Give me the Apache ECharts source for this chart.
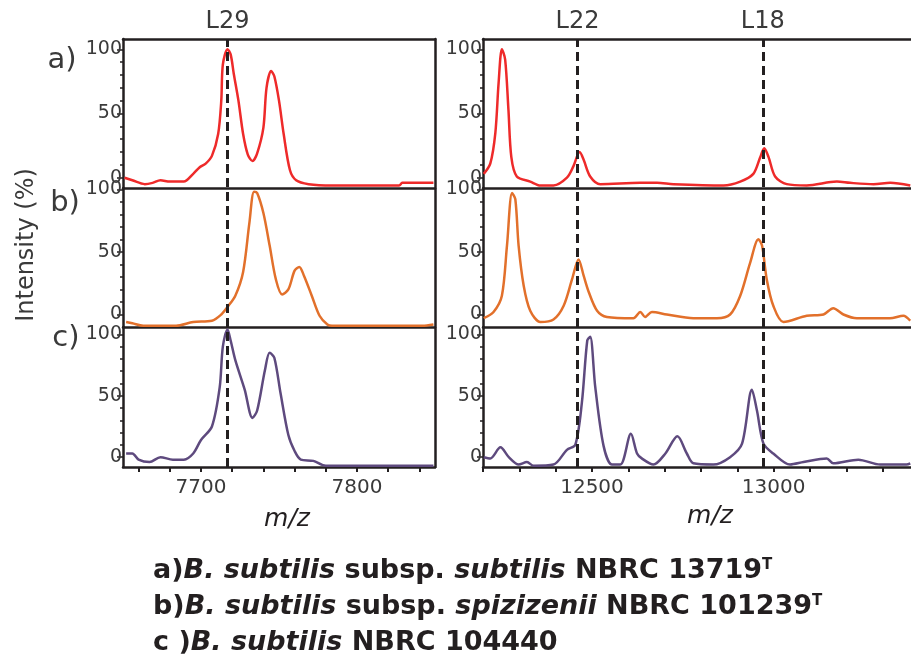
<!DOCTYPE html>
<html>
<head>
<meta charset="utf-8">
<script src="https://cdn.jsdelivr.net/npm/echarts@6/dist/echarts.min.js"></script>
<style>
  html, body { margin: 0; padding: 0; background: #fff; }
  #chart { width: 911px; height: 668px; }
</style>
</head>
<body>
<div id="chart"></div>
<script>
// m/z ranges of the two columns
const leftRange = [7650, 7850];
const rightRange = [12200, 13378];
const leftTicks = [7660, 7680, 7700, 7720, 7740, 7760, 7780, 7800, 7820, 7840];
const leftLabels = [7700, 7800];
const rightTicks = [12200, 12300, 12400, 12500, 12600, 12700, 12800, 12900, 13000, 13100, 13200, 13300];
const rightLabels = [12500, 13000];
const yLabels = [0, 50, 100];
const yMinorTicks = [10, 20, 30, 40, 60, 70, 80, 90];

// marker peaks (dashed lines)
const leftMarkers = [{ name: 'L29', mz: 7717 }];
const rightMarkers = [{ name: 'L22', mz: 12460 }, { name: 'L18', mz: 12970 }];

// a) red, left column
const mzLeftA = [7651, 7656, 7664, 7669, 7674, 7680, 7685, 7689, 7695, 7699, 7703, 7707, 7711, 7713, 7714, 7717, 7719, 7721, 7724, 7727, 7730, 7733, 7736, 7740, 7742, 7745, 7747, 7750, 7753, 7757, 7761, 7769, 7784, 7827, 7829, 7849];
const intLeftA = [0, -2, -5, -4, -2, -3, -3, -3, 3, 8, 11, 17, 34, 60, 88, 100, 96, 81, 60, 34, 18, 13, 19, 39, 70, 83, 79, 60, 34, 6, -2, -5, -6, -6, -4, -4];
// b) orange, left column
const mzLeftB = [7652, 7656, 7663, 7684, 7695, 7707, 7713, 7717, 7722, 7727, 7731, 7734, 7736, 7740, 7744, 7748, 7752, 7756, 7760, 7763, 7766, 7771, 7776, 7781, 7784, 7842, 7849];
const intLeftB = [-6, -7, -9, -9, -6, -5, 0, 6, 15, 34, 73, 98, 97, 81, 55, 28, 16, 20, 35, 38, 31, 15, -1, -8, -9, -9, -8];
// c) purple, left column
const mzLeftC = [7652, 7656, 7660, 7667, 7674, 7682, 7689, 7695, 7700, 7707, 7712, 7714, 7717, 7719, 7722, 7728, 7733, 7736, 7741, 7744, 7747, 7751, 7756, 7760, 7764, 7772, 7780, 7849];
const intLeftC = [3, 3, -2, -4, 0, -2, -2, 3, 14, 25, 57, 90, 104, 95, 79, 55, 32, 38, 71, 85, 81, 52, 18, 5, -2, -3, -7, -7];

// a) red, right column
const mzRightA = [12202, 12220, 12234, 12243, 12252, 12261, 12270, 12278, 12293, 12330, 12358, 12394, 12431, 12449, 12466, 12477, 12495, 12523, 12633, 12679, 12724, 12862, 12908, 12944, 12963, 12974, 12986, 13004, 13036, 13091, 13174, 13210, 13275, 13321, 13376];
const intRightA = [3, 11, 35, 74, 100, 92, 53, 16, 1, -3, -6, -6, 0, 9, 20, 14, 1, -5, -4, -4, -5, -6, -3, 3, 16, 23, 16, 1, -5, -6, -3, -4, -5, -4, -6];
// b) orange, right column
const mzRightB = [12202, 12229, 12252, 12266, 12280, 12289, 12298, 12312, 12330, 12358, 12394, 12422, 12445, 12463, 12477, 12491, 12514, 12541, 12614, 12633, 12646, 12665, 12706, 12779, 12844, 12880, 12908, 12935, 12958, 12968, 12981, 12999, 13027, 13091, 13137, 13164, 13192, 13229, 13320, 13357, 13376];
const intRightB = [-3, 2, 15, 55, 97, 92, 55, 23, 3, -6, -4, 7, 28, 44, 31, 18, 3, -2, -3, 2, -2, 2, 0, -3, -3, 0, 15, 41, 60, 55, 28, 7, -6, -1, 0, 5, 0, -3, -3, -1, -5];
// c) purple, right column
const mzRightC = [12202, 12220, 12248, 12271, 12298, 12321, 12339, 12394, 12431, 12454, 12472, 12487, 12495, 12509, 12532, 12555, 12578, 12607, 12624, 12637, 12669, 12702, 12735, 12761, 12779, 12834, 12880, 12913, 12940, 12954, 12972, 12999, 13045, 13082, 13146, 13164, 13233, 13293, 13366, 13376];
const intRightC = [0, -1, 8, 0, -6, -4, -7, -6, 6, 10, 44, 95, 98, 57, 9, -6, -6, 19, 3, -1, -6, 3, 17, 3, -5, -6, 0, 11, 55, 38, 11, 3, -6, -4, -1, -5, -2, -6, -6, -5];

const FONT = '"DejaVu Sans", sans-serif';
const INK = '#231f20';
const GREY = '#3a3a3a';
const colors = ['#ee2a2a', '#e2702b', '#5e4a7e'];

const zip = (xs, ys) => xs.map((x, i) => [x, ys[i]]);

// row layout: a, b, c
const rows = [
  { top: 39, height: 149, min: -8, max: 108 },
  { top: 188, height: 139, min: -10, max: 101 },
  { top: 327, height: 140, min: -8, max: 106 }
];
const cols = [
  { left: 123, width: 312, range: leftRange, ticks: leftTicks, labels: leftLabels, markers: leftMarkers,
    data: [zip(mzLeftA, intLeftA), zip(mzLeftB, intLeftB), zip(mzLeftC, intLeftC)] },
  { left: 483, width: 428, range: rightRange, ticks: rightTicks, labels: rightLabels, markers: rightMarkers,
    data: [zip(mzRightA, intRightA), zip(mzRightB, intRightB), zip(mzRightC, intRightC)] }
];

const grid = [];
const xAxis = [];
const yAxis = [];
const series = [];

cols.forEach((col, c) => {
  rows.forEach((row, r) => {
    const g = grid.length;
    grid.push({ left: col.left, width: col.width, top: row.top, height: row.height });
    const isBottom = r === rows.length - 1;
    xAxis.push({
      gridIndex: g, type: 'value', min: col.range[0], max: col.range[1], position: 'bottom',
      axisLine: { show: true, onZero: false, lineStyle: { color: INK, width: 2.5 } },
      axisTick: { show: isBottom, length: 5, customValues: col.ticks, lineStyle: { color: INK, width: 2 } },
      axisLabel: { show: isBottom, customValues: col.labels, formatter: v => String(v),
        fontSize: 20, color: GREY, fontFamily: FONT, margin: 11 },
      splitLine: { show: false }
    });
    // main y axis: line, 0/50/100 labels
    const yMain = yAxis.length;
    yAxis.push({
      gridIndex: g, type: 'value', min: row.min, max: row.max, position: 'left',
      axisLine: { show: true, onZero: false, lineStyle: { color: INK, width: 2.5 } },
      axisTick: { show: true, length: 6, customValues: yLabels, lineStyle: { color: INK, width: 1.5 } },
      axisLabel: { customValues: yLabels, fontSize: 19, color: GREY, fontFamily: FONT, margin: 1 },
      splitLine: { show: false }
    });
    // minor ticks every 10
    yAxis.push({
      gridIndex: g, type: 'value', min: row.min, max: row.max, position: 'left',
      axisLine: { show: false },
      axisTick: { show: true, length: 3, customValues: yMinorTicks, lineStyle: { color: INK, width: 1.5 } },
      axisLabel: { show: false },
      splitLine: { show: false }
    });
    series.push({
      type: 'line', xAxisIndex: g, yAxisIndex: yMain, data: col.data[r],
      showSymbol: false, smooth: 0.3, lineStyle: { color: colors[r], width: 2.5 }, z: 2
    });
  });
});

// overlay grids: frame top line, left column right border, dashed marker lines
cols.forEach((col, c) => {
  const g = grid.length;
  grid.push({ left: col.left, width: col.width, top: rows[0].top, height: 467 - rows[0].top });
  xAxis.push({
    gridIndex: g, type: 'value', min: col.range[0], max: col.range[1], position: 'top',
    axisLine: { show: true, onZero: false, lineStyle: { color: INK, width: 2.5 } },
    axisTick: { show: false }, axisLabel: { show: false }, splitLine: { show: false }
  });
  const yi = yAxis.length;
  yAxis.push({
    gridIndex: g, type: 'value', min: 0, max: 1, position: 'right',
    axisLine: { show: c === 0, onZero: false, lineStyle: { color: INK, width: 2.5 } },
    axisTick: { show: false }, axisLabel: { show: false }, splitLine: { show: false }
  });
  series.push({
    type: 'line', xAxisIndex: g, yAxisIndex: yi, data: [], z: 5,
    markLine: {
      silent: true, symbol: ['none', 'none'],
      lineStyle: { color: INK, width: 3, type: [9, 5] },
      label: { show: true, position: 'end', distance: 5, formatter: p => p.name,
        fontSize: 24, color: GREY, fontFamily: FONT },
      data: col.markers.map(m => ({ name: m.name, xAxis: m.mz }))
    }
  });
});

const textStyle = (text, x, y, size, extra) => ({
  type: 'text', x, y,
  style: Object.assign({ text, fontSize: size, fontFamily: FONT, fill: GREY,
    textAlign: 'center', textVerticalAlign: 'middle' }, extra || {})
});

const rich = {
  n: { fontSize: 27, fontWeight: 'bold', fontFamily: FONT, fill: INK },
  i: { fontSize: 27, fontWeight: 'bold', fontStyle: 'italic', fontFamily: FONT, fill: INK },
  s: { fontSize: 15, fontWeight: 'bold', fontFamily: FONT, fill: INK, verticalAlign: 'top' }
};
const legendLines = [
  '{n|a)}{i|B. subtilis}{n| subsp. }{i|subtilis}{n| NBRC 13719}{s|T}',
  '{n|b)}{i|B. subtilis}{n| subsp. }{i|spizizenii}{n| NBRC 101239}{s|T}',
  '{n|c )}{i|B. subtilis}{n| NBRC 104440}'
];

const graphic = [
  textStyle('a)', 62, 60, 29),
  textStyle('b)', 65, 203, 29),
  textStyle('c)', 66, 338, 29),
  Object.assign(textStyle('Intensity (%)', 27, 245, 24), { rotation: Math.PI / 2 }),
  textStyle('m/z', 287, 519, 25, { fontStyle: 'italic', fill: INK }),
  textStyle('m/z', 710, 516, 25, { fontStyle: 'italic', fill: INK })
].concat(legendLines.map((t, i) => ({
  type: 'text', x: 153, y: 571 + i * 36,
  style: { text: t, rich, textAlign: 'left', textVerticalAlign: 'middle' }
})));

const chart = echarts.init(document.getElementById('chart'));
chart.setOption({
  animation: false,
  backgroundColor: '#fff',
  grid, xAxis, yAxis, series, graphic
});
</script>
</body>
</html>
